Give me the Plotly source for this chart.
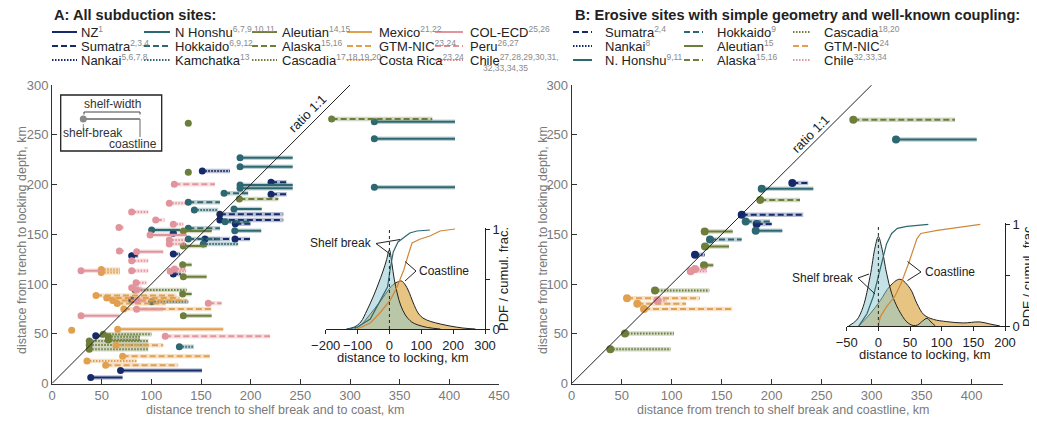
import plotly.graph_objects as go

# page is rendered with an 8px body margin, so the figure is sized to fit the window
OFF = 8
W, H = 1037 - OFF, 424 - OFF
def px(x): return (x - OFF) / W
def py(y): return 1 - (y - OFF) / H

NAVY = '#152a6b'
TEAL = '#2d6872'
OLIVE = '#6c7e3a'
ORANGE = '#e0a04f'
PINK = '#e2949c'
SOLID, DASH, DOT = 'solid', '6px,3px', '1.5px,1.5px'

# ---------------- Panel A data (shelf-break distance, coastline distance, locking depth distance), km
A_NZ_SHELF = [39, 69, 44]
A_NZ_COAST = [71, 151, 52]
A_NZ_DEPTH = [6, 13, 48]

A_SUM_SHELF = [220.5, 220.5, 169, 169, 184.5, 154, 184.2, 80.2, 80.2, 122]
A_SUM_COAST = [236.3, 236.3, 232.8, 232.8, 200, 179.2, 199.3, 86.9, 86, 125.5]
A_SUM_DEPTH = [202.2, 190.1, 170, 164.3, 160.5, 145.2, 145.2, 128.4, 83.9, 151]

A_NAN_SHELF = [151.3, 122.1, 122.1]
A_NAN_COAST = [179.2, 128.9, 130]
A_NAN_DEPTH = [213.6, 130.2, 110]

A_NHO_SHELF = [189.3, 189.3, 189.3, 189.3, 183.2, 100.3, 184, 324.5, 324.5, 324.5]
A_NHO_COAST = [242.3, 242.3, 242.3, 242.3, 211.1, 128.8, 210.6, 405.7, 405.7, 405.7]
A_NHO_DEPTH = [227, 217.9, 199.5, 196.2, 175.4, 154.3, 153.5, 263, 246, 197.2]

A_HOK_SHELF = [173.2, 137.2, 174.2, 137.2, 137.2]
A_HOK_COAST = [197.6, 169.1, 199.3, 169.1, 169.1]
A_HOK_DEPTH = [191.2, 182.1, 162.6, 156, 145.2]

A_KAM_SHELF = [143.3, 152.3, 100.3, 128.2]
A_KAM_COAST = [167.4, 187.5, 137.2, 143]
A_KAM_DEPTH = [174.4, 140.2, 82.2, 37]

A_ALE_SHELF = [132.2, 132.2, 131.5, 132.2, 131.5, 132.2]
A_ALE_COAST = [160.8, 155.7, 140.6, 155.7, 140.6, 160.7]
A_ALE_DEPTH = [153.3, 138.2, 119.4, 107.3, 90, 68.2]

A_ALA_SHELF = [281.5, 188.6, 137.2, 137.2]
A_ALA_COAST = [382.8, 227.8, 137.2, 137.2]
A_ALA_DEPTH = [265.8, 185.4, 261.5, 212.2]

A_CAS_SHELF = [83.6, 51.6, 56.7, 56.7, 37.5, 37.5, 37.5]
A_CAS_COAST = [135.6, 100.3, 88.6, 88.6, 97, 97, 97]
A_CAS_DEPTH = [94, 49.4, 47, 43.6, 42.7, 38.7, 34.4]

A_MEX_SHELF = [66.1]
A_MEX_COAST = [172.4]
A_MEX_DEPTH = [54.5]

A_GTM_SHELF = [44.3, 55.1, 61.1, 65.6, 72.3, 64.4, 71.1, 54]
A_GTM_COAST = [125.5, 128.3, 135.6, 114.3, 160.6, 112, 159, 127]
A_GTM_DEPTH = [88.4, 86, 83.5, 80.4, 75, 38.4, 27.3, 18.3]

A_CR_SHELF = [49.6, 49.6, 19.8, 35.2]
A_CR_COAST = [68.4, 68.4, 23, 85.2]
A_CR_DEPTH = [114.5, 111.5, 53.5, 22.6]

A_COL_SHELF = [98.7, 85.2, 29.2, 85.2, 29.2]
A_COL_COAST = [135.6, 112, 50, 112, 67.8]
A_COL_DEPTH = [149.2, 132.5, 113.4, 74.6, 68]

A_PER_SHELF = [123.1, 104.4, 157.3, 114]
A_PER_COAST = [164.1, 113.8, 170.8, 219.5]
A_PER_DEPTH = [200.2, 164.3, 80.7, 47.4]

A_CHI_SHELF = [118.1, 80.2, 122.1, 67.4, 118.1, 118.1, 67.8, 80.2, 119, 123.3, 80.2, 84.6, 80.2, 85.2, 85.6]
A_CHI_COAST = [133.9, 97, 132.2, 71.8, 133.9, 133.9, 72, 97, 135, 135, 97, 95, 90, 95, 95]
A_CHI_DEPTH = [181.1, 172.4, 160, 156.8, 144.2, 140.2, 133.2, 123.4, 112.8, 115.2, 113.4, 101.3, 96.3, 94, 83.5]

# ---------------- Panel B data
B_SUM_SHELF = [220.6, 170, 185]
B_SUM_COAST = [236.6, 231.6, 200]
B_SUM_DEPTH = [201.5, 169.5, 160.2]

B_NAN_SHELF = [123.3]
B_NAN_COAST = [133]
B_NAN_DEPTH = [129.5]

B_NHO_SHELF = [190, 184, 324.3]
B_NHO_COAST = [241.6, 210.6, 405]
B_NHO_DEPTH = [195.8, 153.5, 245.2]

B_HOK_SHELF = [174, 138.3]
B_HOK_COAST = [198.3, 170]
B_HOK_DEPTH = [162.8, 144.8]

B_ALE_SHELF = [133, 133.3, 132.3]
B_ALE_COAST = [161, 157.3, 141.6]
B_ALE_DEPTH = [152.8, 137.8, 118.8]

B_ALA_SHELF = [281.6, 188.6]
B_ALA_COAST = [383.3, 228.3]
B_ALA_DEPTH = [265.2, 184.5]

B_CAS_SHELF = [83.3, 53.3, 38.6]
B_CAS_COAST = [137.6, 102.3, 99]
B_CAS_DEPTH = [93.5, 50.2, 34.5]

B_GTM_SHELF = [55.3, 65.6, 72.3]
B_GTM_COAST = [128.3, 114.3, 160.6]
B_GTM_DEPTH = [85.8, 80.2, 74.8]

B_CHI_SHELF = [119, 123.3, 85.6]
B_CHI_COAST = [135, 135, 95]
B_CHI_DEPTH = [112.8, 115.2, 83.5]

RATIO = [0, 300]

# ---------------- Inset data (distance to locking, km ; PDF / cumulative fraction)
A_SB_PDF_X = [-135, -110, -90, -70, -50, -35, -20, -10, 0, 8, 15, 25, 35, 50, 70, 90, 120, 160]
A_SB_PDF_Y = [0, 0.02, 0.07, 0.19, 0.33, 0.45, 0.58, 0.68, 0.79, 0.65, 0.50, 0.35, 0.24, 0.14, 0.07, 0.04, 0.015, 0]
A_CL_PDF_X = [-110, -90, -70, -50, -30, -10, 10, 25, 38, 50, 60, 75, 90, 105, 130, 160, 190, 230, 270]
A_CL_PDF_Y = [0, 0.04, 0.11, 0.19, 0.27, 0.36, 0.44, 0.47, 0.48, 0.44, 0.38, 0.26, 0.16, 0.11, 0.075, 0.05, 0.03, 0.01, 0]
A_SB_CUM_X = [-130, -100, -60, -30, -6, 3, 12, 27, 48, 64, 86, 127]
A_SB_CUM_Y = [0, 0.02, 0.10, 0.28, 0.42, 0.61, 0.77, 0.87, 0.92, 0.96, 0.98, 0.99]
A_CL_CUM_X = [-101, -60, -30, 3, 24, 45, 57, 71, 97, 127, 159, 206]
A_CL_CUM_Y = [0, 0.06, 0.16, 0.29, 0.42, 0.59, 0.72, 0.86, 0.90, 0.93, 0.98, 1.0]

B_SB_PDF_X = [-47, -34, -24, -13, -5, 0, 5, 13, 21, 32, 45, 55, 62, 70, 77, 83, 90]
B_SB_PDF_Y = [0, 0.06, 0.19, 0.49, 0.78, 0.88, 0.78, 0.52, 0.32, 0.16, 0.04, 0.005, 0.01, 0.05, 0.075, 0.04, 0]
B_CL_PDF_X = [-31, -13, 3, 18, 34, 50, 61, 72, 87, 108, 134, 160, 176, 192]
B_CL_PDF_Y = [0, 0.12, 0.25, 0.39, 0.46, 0.37, 0.22, 0.11, 0.065, 0.043, 0.03, 0.04, 0.02, 0]
B_SB_CUM_X = [-31, -18, -8, 0, 5, 13, 21, 30, 45, 79]
B_SB_CUM_Y = [0, 0.12, 0.29, 0.49, 0.62, 0.81, 0.91, 0.96, 0.98, 1.0]
B_CL_CUM_X = [0, 3, 13, 26, 36, 48, 61, 67, 93, 130, 161]
B_CL_CUM_Y = [0, 0.09, 0.19, 0.29, 0.42, 0.62, 0.86, 0.91, 0.94, 0.97, 1.0]

FONT = 'Liberation Sans'
GRAY = '#7a7a7a'


def rgba(hexc, a):
    h = hexc.lstrip('#')
    r, g, b = int(h[0:2], 16), int(h[2:4], 16), int(h[4:6], 16)
    return f'rgba({r},{g},{b},{a})'


fig = go.Figure()


def add_site(shelf, coast, depth, color, dash, xa, ya, msize):
    xs, ys = [], []
    for s, c, d in zip(shelf, coast, depth):
        xs += [s, c, None]
        ys += [d, d, None]
    fig.add_trace(go.Scatter(x=xs, y=ys, mode='lines', xaxis=xa, yaxis=ya,
                             line=dict(color=rgba(color, 0.3), width=4.5),
                             hoverinfo='skip', showlegend=False))
    fig.add_trace(go.Scatter(x=xs, y=ys, mode='lines', xaxis=xa, yaxis=ya,
                             line=dict(color=color, width=2, dash=dash),
                             hoverinfo='skip', showlegend=False))
    fig.add_trace(go.Scatter(x=shelf, y=depth, mode='markers', xaxis=xa, yaxis=ya,
                             marker=dict(color=color, size=msize),
                             showlegend=False))


A_SITES = [
    (A_NZ_SHELF, A_NZ_COAST, A_NZ_DEPTH, NAVY, SOLID),
    (A_SUM_SHELF, A_SUM_COAST, A_SUM_DEPTH, NAVY, DASH),
    (A_NAN_SHELF, A_NAN_COAST, A_NAN_DEPTH, NAVY, DOT),
    (A_NHO_SHELF, A_NHO_COAST, A_NHO_DEPTH, TEAL, SOLID),
    (A_HOK_SHELF, A_HOK_COAST, A_HOK_DEPTH, TEAL, DASH),
    (A_KAM_SHELF, A_KAM_COAST, A_KAM_DEPTH, TEAL, DOT),
    (A_ALE_SHELF, A_ALE_COAST, A_ALE_DEPTH, OLIVE, SOLID),
    (A_ALA_SHELF, A_ALA_COAST, A_ALA_DEPTH, OLIVE, DASH),
    (A_CAS_SHELF, A_CAS_COAST, A_CAS_DEPTH, OLIVE, DOT),
    (A_MEX_SHELF, A_MEX_COAST, A_MEX_DEPTH, ORANGE, SOLID),
    (A_GTM_SHELF, A_GTM_COAST, A_GTM_DEPTH, ORANGE, DASH),
    (A_CR_SHELF, A_CR_COAST, A_CR_DEPTH, ORANGE, DOT),
    (A_COL_SHELF, A_COL_COAST, A_COL_DEPTH, PINK, SOLID),
    (A_PER_SHELF, A_PER_COAST, A_PER_DEPTH, PINK, DASH),
    (A_CHI_SHELF, A_CHI_COAST, A_CHI_DEPTH, PINK, DOT),
]
B_SITES = [
    (B_SUM_SHELF, B_SUM_COAST, B_SUM_DEPTH, NAVY, DASH),
    (B_NAN_SHELF, B_NAN_COAST, B_NAN_DEPTH, NAVY, DOT),
    (B_NHO_SHELF, B_NHO_COAST, B_NHO_DEPTH, TEAL, SOLID),
    (B_HOK_SHELF, B_HOK_COAST, B_HOK_DEPTH, TEAL, DASH),
    (B_ALE_SHELF, B_ALE_COAST, B_ALE_DEPTH, OLIVE, SOLID),
    (B_ALA_SHELF, B_ALA_COAST, B_ALA_DEPTH, OLIVE, DASH),
    (B_CAS_SHELF, B_CAS_COAST, B_CAS_DEPTH, OLIVE, DOT),
    (B_GTM_SHELF, B_GTM_COAST, B_GTM_DEPTH, ORANGE, DASH),
    (B_CHI_SHELF, B_CHI_COAST, B_CHI_DEPTH, PINK, DOT),
]
for s in A_SITES:
    add_site(*s, 'x', 'y', 7)
for s in B_SITES:
    add_site(*s, 'x2', 'y2', 8)

for xa, ya in (('x', 'y'), ('x2', 'y2')):
    fig.add_trace(go.Scatter(x=RATIO, y=RATIO, mode='lines', xaxis=xa, yaxis=ya,
                             line=dict(color='#222', width=1), hoverinfo='skip', showlegend=False))


def add_inset(sbx, sby, clx, cly, sbcx, sbcy, clcx, clcy, xa, ya):
    fig.add_trace(go.Scatter(x=clx, y=cly, mode='lines', fill='tozeroy', xaxis=xa, yaxis=ya,
                             fillcolor='#e8c482', line=dict(color='#222', width=1, shape='spline'),
                             hoverinfo='skip', showlegend=False))
    fig.add_trace(go.Scatter(x=sbx, y=sby, mode='lines', fill='tozeroy', xaxis=xa, yaxis=ya,
                             fillcolor='rgba(140,200,206,0.5)', line=dict(color='#222', width=1, shape='spline'),
                             hoverinfo='skip', showlegend=False))
    fig.add_trace(go.Scatter(x=sbcx, y=sbcy, mode='lines', xaxis=xa, yaxis=ya,
                             line=dict(color=TEAL, width=1.2), hoverinfo='skip', showlegend=False))
    fig.add_trace(go.Scatter(x=clcx, y=clcy, mode='lines', xaxis=xa, yaxis=ya,
                             line=dict(color='#d0873a', width=1.2), hoverinfo='skip', showlegend=False))


add_inset(A_SB_PDF_X, A_SB_PDF_Y, A_CL_PDF_X, A_CL_PDF_Y, A_SB_CUM_X, A_SB_CUM_Y,
          A_CL_CUM_X, A_CL_CUM_Y, 'x3', 'y3')
add_inset(B_SB_PDF_X, B_SB_PDF_Y, B_CL_PDF_X, B_CL_PDF_Y, B_SB_CUM_X, B_SB_CUM_Y,
          B_CL_CUM_X, B_CL_CUM_Y, 'x4', 'y4')

main_ax = dict(showline=True, linecolor='#333', linewidth=1, ticks='inside', ticklen=5,
               tickcolor='#333', showgrid=False, zeroline=False, automargin=False,
               tickfont=dict(family=FONT, size=13, color=GRAY))
inset_ax = dict(showline=True, linecolor='#222', linewidth=1, ticks='outside', ticklen=4,
                tickcolor='#222', showgrid=False, zeroline=False, automargin=False,
                tickfont=dict(family=FONT, size=13, color='#222'))

yd = [py(383.5), py(85)]
fig.update_layout(
    width=W, height=H, margin=dict(l=0, r=0, t=0, b=0, pad=0, autoexpand=False),
    paper_bgcolor='white', plot_bgcolor='rgba(0,0,0,0)',
    font=dict(family=FONT, color='#222'),
    showlegend=False,
    xaxis=dict(main_ax, domain=[px(52), px(499)], range=[0, 450], tickvals=list(range(0, 451, 50)), anchor='y'),
    yaxis=dict(main_ax, domain=yd, range=[0, 300], tickvals=list(range(0, 301, 50)), anchor='x'),
    xaxis2=dict(main_ax, domain=[px(571.7), px(1002.7)], range=[0, 431], tickvals=list(range(0, 401, 50)), anchor='y2'),
    yaxis2=dict(main_ax, domain=yd, range=[0, 300], tickvals=list(range(0, 301, 50)), anchor='x2'),
    xaxis3=dict(inset_ax, domain=[px(325.7), px(485)], range=[-200, 300],
                tickvals=[-200, -100, 0, 100, 200, 300], anchor='y3'),
    yaxis3=dict(inset_ax, domain=[py(329), py(228)], range=[0, 1.01], side='right', anchor='x3',
                tickvals=[0, 0.5, 1], ticktext=['0', '', '1']),
    xaxis4=dict(inset_ax, domain=[px(846.7), px(1005)], range=[-50, 200],
                tickvals=[-50, 0, 50, 100, 150, 200], anchor='y4'),
    yaxis4=dict(inset_ax, domain=[py(326), py(223.3)], range=[0, 1.01], side='right', anchor='x4',
                tickvals=[0, 0.5, 1], ticktext=['0', '', '1']),
)

shapes = []
ann = []


def text(x, y, s, size=13, color='#222', xanchor='left', angle=0, bold=False):
    if bold:
        s = '<b>' + s + '</b>'
    ann.append(dict(x=px(x), y=py(y), xref='paper', yref='paper', text=s, showarrow=False,
                    xanchor=xanchor, yanchor='middle', textangle=angle,
                    font=dict(family=FONT, size=size, color=color)))


def pline(x0, y0, x1, y1, color='#222', width=1, dash='solid'):
    shapes.append(dict(type='line', xref='paper', yref='paper', x0=px(x0), y0=py(y0),
                       x1=px(x1), y1=py(y1), line=dict(color=color, width=width, dash=dash)))


def sup(s):
    return "<sup><span style='color:#8a8a8a;font-size:8.5px'>" + s + "</span></sup>"


# titles
text(52, 14.5, 'A: All subduction sites:', size=14.6, bold=True)
text(573, 14.5, 'B: Erosive sites with simple geometry and well-known coupling:', size=14.6, bold=True)

# legend A
rows = [32, 46, 60]
A_LEG = [
    (52, 77, 79, [('NZ', '1', NAVY, SOLID), ('Sumatra', '2,3,4', NAVY, DASH), ('Nankai', '5,6,7,8', NAVY, DOT)]),
    (144, 170, 173, [('N Honshu', '6,7,9,10,11', TEAL, SOLID), ('Hokkaido', '6,9,12', TEAL, DASH), ('Kamchatka', '13', TEAL, DOT)]),
    (252, 277, 280, [('Aleutian', '14,15', OLIVE, SOLID), ('Alaska', '15,16', OLIVE, DASH), ('Cascadia', '17,18,19,20', OLIVE, DOT)]),
    (347, 372, 377, [('Mexico', '21,22', ORANGE, SOLID), ('GTM-NIC', '23,24', ORANGE, DASH), ('Costa Rica', '23,24', ORANGE, DOT)]),
    (435, 463, 468, [('COL-ECD', '25,26', PINK, SOLID), ('Peru', '26,27', PINK, DASH), ('Chile', '27,28,29,30,31,', PINK, DOT)]),
]
for x0, x1, tx, items in A_LEG:
    for r, (nm, sp, col, dsh) in zip(rows, items):
        pline(x0, r, x1, r, color=col, width=2, dash=dsh)
        text(tx, r, nm + sup(sp), size=13)
text(481, 68, "<span style='color:#8a8a8a'>32,33,34,35</span>", size=8.5)

B_LEG = [
    (573, 592, 603, [('Sumatra', '2,4', NAVY, DASH), ('Nankai', '8', NAVY, DOT), ('N. Honshu', '9,11', TEAL, SOLID)]),
    (684, 703, 715, [('Hokkaido', '9', TEAL, DASH), ('Aleutian', '15', OLIVE, SOLID), ('Alaska', '15,16', OLIVE, DASH)]),
    (793, 811, 822, [('Cascadia', '18,20', OLIVE, DOT), ('GTM-NIC', '24', ORANGE, DASH), ('Chile', '32,33,34', PINK, DOT)]),
]
for x0, x1, tx, items in B_LEG:
    for r, (nm, sp, col, dsh) in zip(rows, items):
        pline(x0, r, x1, r, color=col, width=2, dash=dsh)
        text(tx, r, nm + sup(sp), size=13)

# axis titles
text(22, 240, 'distance from trench to locking depth, km', size=12.5, color=GRAY, xanchor='center', angle=-90)
text(275, 410, 'distance trench to shelf break and to coast, km', size=12.5, color=GRAY, xanchor='center')
text(543, 240, 'distance from trench to locking depth, km', size=12.5, color=GRAY, xanchor='center', angle=-90)
text(783, 410, 'distance from trench to shelf break and coastline, km', size=12.5, color=GRAY, xanchor='center')

# ratio labels
text(307.5, 113.5, 'ratio 1:1', size=13, xanchor='center', angle=-45)
text(810, 134, 'ratio 1:1', size=13, xanchor='center', angle=-45)

# inset texts
text(403, 357, 'distance to locking, km', size=13, xanchor='center')
text(503, 279, 'PDF / cumul. frac.', size=13, xanchor='center', angle=-90)
text(925, 354, 'distance to locking, km', size=13, xanchor='center')
text(1027, 275, 'PDF / cumul. frac.', size=13, xanchor='center', angle=-90)

text(374, 243, 'Shelf break', size=12, xanchor='right')
pline(376, 243.5, 400, 239.5)
pline(376, 243.5, 390, 254)
text(417, 271, 'Coastline', size=12)
pline(416, 271, 405, 261.5)
pline(416, 271, 405, 281)

text(856, 277.5, 'Shelf break', size=12, xanchor='right')
pline(858, 278, 869, 274)
pline(858, 278, 875, 294)
text(923, 272, 'Coastline', size=12)
pline(921, 272, 907.5, 261.5)
pline(921, 272, 907.5, 280.5)

# dotted zero lines in insets
for xa, ya in (('x3', 'y3'), ('x4', 'y4')):
    shapes.append(dict(type='line', xref=xa, yref=ya, x0=0, x1=0, y0=0, y1=0.99,
                       line=dict(color='#222', width=1, dash='dot')))

# schematic box in panel A
shapes.append(dict(type='rect', xref='paper', yref='paper', x0=px(60.7), y0=py(95), x1=px(161.7), y1=py(151),
                   line=dict(color='#222', width=1.3)))
pline(83.3, 119, 140, 119, color='#8a8a8a', width=2)
pline(140, 119, 140, 137, color='#8a8a8a', width=1.3)
pline(83.3, 124, 83.3, 131, color='#8a8a8a', width=1)
pline(84, 112, 140, 112, color='#444', width=1)
pline(84, 112, 84, 114.5, color='#444', width=1)
pline(140, 112, 140, 114.5, color='#444', width=1)
shapes.append(dict(type='circle', xref='paper', yref='paper', x0=px(79.8), y0=py(115.5), x1=px(86.8), y1=py(122.5),
                   fillcolor='#8a8a8a', line=dict(color='#8a8a8a', width=0)))
text(112, 104, 'shelf-width', size=12, color='#333', xanchor='center')
text(93, 133, 'shelf-break', size=12, color='#333', xanchor='center')
text(133, 143.5, 'coastline', size=12, color='#333', xanchor='center')

fig.update_layout(shapes=shapes, annotations=ann)
fig.write_html('out.html')
